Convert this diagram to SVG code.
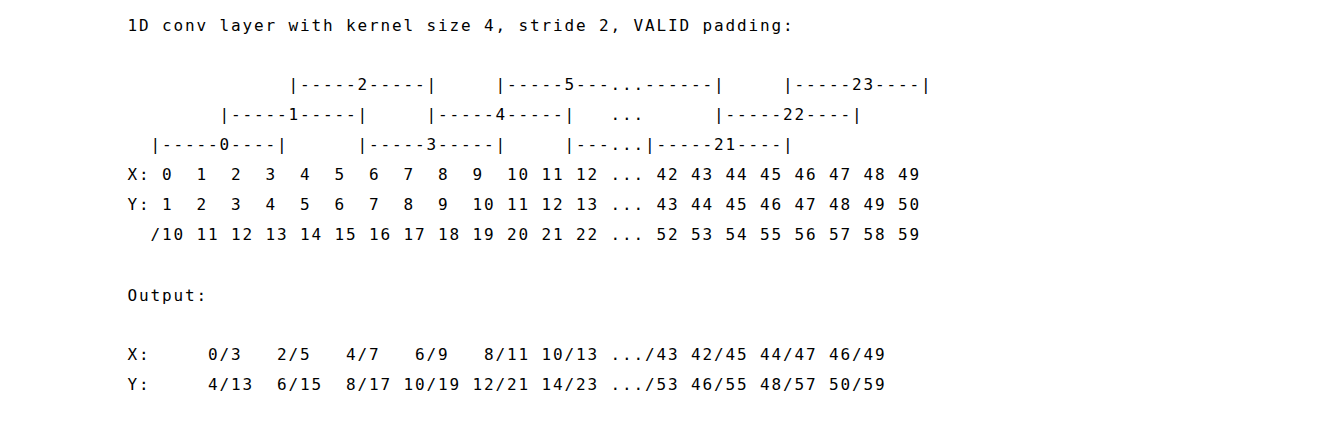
<svg xmlns="http://www.w3.org/2000/svg" width="1335" height="430" viewBox="0 0 1335 430">
<style>
text{font-family:"DejaVu Sans Mono","Liberation Mono",monospace;font-size:16px;letter-spacing:1.867px;fill:#000;white-space:pre}
</style>
<rect width="1335" height="430" fill="#fff"/>
<g id="title">
<text x="127.5" y="31" xml:space="preserve">1D conv layer with kernel size 4, stride 2, VALID padding:</text>
</g>
<g id="kernels">
<text x="127.5" y="90" xml:space="preserve">              |-----2-----|     |-----5---...------|     |-----23----|</text>
<text x="127.5" y="120" xml:space="preserve">        |-----1-----|     |-----4-----|   ...      |-----22----|</text>
<text x="127.5" y="150" xml:space="preserve">  |-----0----|      |-----3-----|     |---...|-----21----|</text>
</g>
<g id="inputs">
<text x="127.5" y="180" xml:space="preserve">X: 0  1  2  3  4  5  6  7  8  9  10 11 12 ... 42 43 44 45 46 47 48 49</text>
<text x="127.5" y="210" xml:space="preserve">Y: 1  2  3  4  5  6  7  8  9  10 11 12 13 ... 43 44 45 46 47 48 49 50</text>
<text x="127.5" y="240" xml:space="preserve">  /10 11 12 13 14 15 16 17 18 19 20 21 22 ... 52 53 54 55 56 57 58 59</text>
</g>
<g id="output">
<text x="127.5" y="301" xml:space="preserve">Output:</text>
<text x="127.5" y="360" xml:space="preserve">X:     0/3   2/5   4/7   6/9   8/11 10/13 .../43 42/45 44/47 46/49</text>
<text x="127.5" y="390" xml:space="preserve">Y:     4/13  6/15  8/17 10/19 12/21 14/23 .../53 46/55 48/57 50/59</text>
</g>
</svg>
